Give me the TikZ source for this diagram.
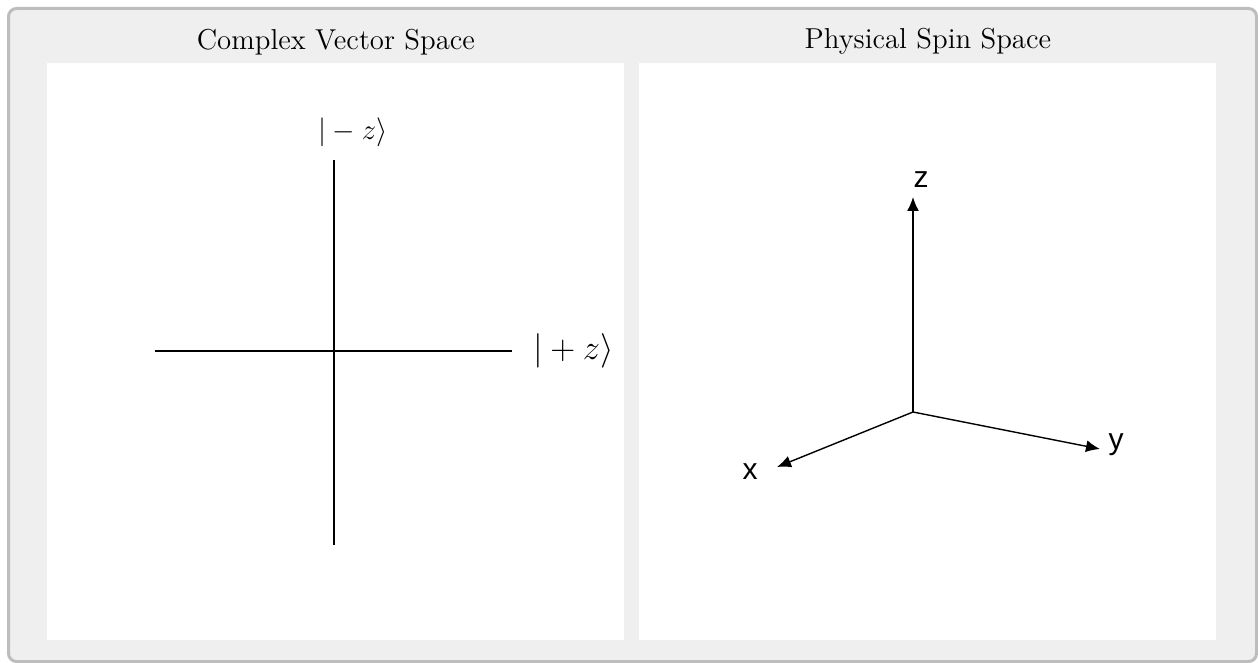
\documentclass[tikz,border=0pt]{standalone}
\usepackage{fontspec}
\usetikzlibrary{arrows.meta, positioning}
\newfontfamily\axisfont{Liberation Sans}
\definecolor{framegray}{HTML}{BDBDBD}
\definecolor{panelgray}{HTML}{EFEFEF}

\begin{document}
\begin{tikzpicture}[x=0.5pt, y=-0.5pt,
  panel/.style={fill=white, inner sep=0pt, minimum width=288.5pt, minimum height=288.5pt, anchor=north west},
  title/.style={font=\Large, inner sep=2pt},
  ketaxis/.style={line width=1pt},
  spinaxis/.style={line width=0.7pt, -{Latex[length=7pt, width=6pt]}},
  axislabel/.style={font=\axisfont\fontsize{15}{18}\selectfont, inner sep=1pt}
]
  \useasboundingbox (0,0) rectangle (1258,663);
  \draw[framegray, fill=panelgray, line width=1.5pt, rounded corners=4pt]
    (8.5,8.5) rectangle (1256.5,661.5);

  % the two panels and their titles
  \node[panel] (cvs) at (47,63) {};
  \node[panel] (pss) at (639,63) {};
  \node[title, above=2pt of cvs.north] (cvstitle) {Complex Vector Space};
  \node[title, above=2pt of pss.north] (psstitle) {Physical Spin Space};

  % complex vector space: two orthogonal kets
  \coordinate (hleft) at (155,351);
  \coordinate (hright) at (512,351);
  \coordinate (vtop) at (334,160);
  \coordinate (vbot) at (334,545);
  \draw[ketaxis] (hleft) -- (hright);
  \draw[ketaxis] (vtop) -- (vbot);
  \node[font=\LARGE, right=7pt of hright] (plusz) {$|+z\rangle$};
  \node[font=\Large] (minusz) at (353,132) {$|-z\rangle$};

  % physical spin space: x, y, z
  \coordinate (o) at (913,412);
  \coordinate (ztip) at (913,197);
  \coordinate (ytip) at (1100,449);
  \coordinate (xtip) at (777,467);
  \draw[spinaxis] (o) -- (ztip);
  \draw[spinaxis] (o) -- (ytip);
  \draw[spinaxis] (o) -- (xtip);
  \node[axislabel] (zlab) at (921,180) {z};
  \node[axislabel] (ylab) at (1116,445) {y};
  \node[axislabel] (xlab) at (750,472) {x};
\end{tikzpicture}
\end{document}
